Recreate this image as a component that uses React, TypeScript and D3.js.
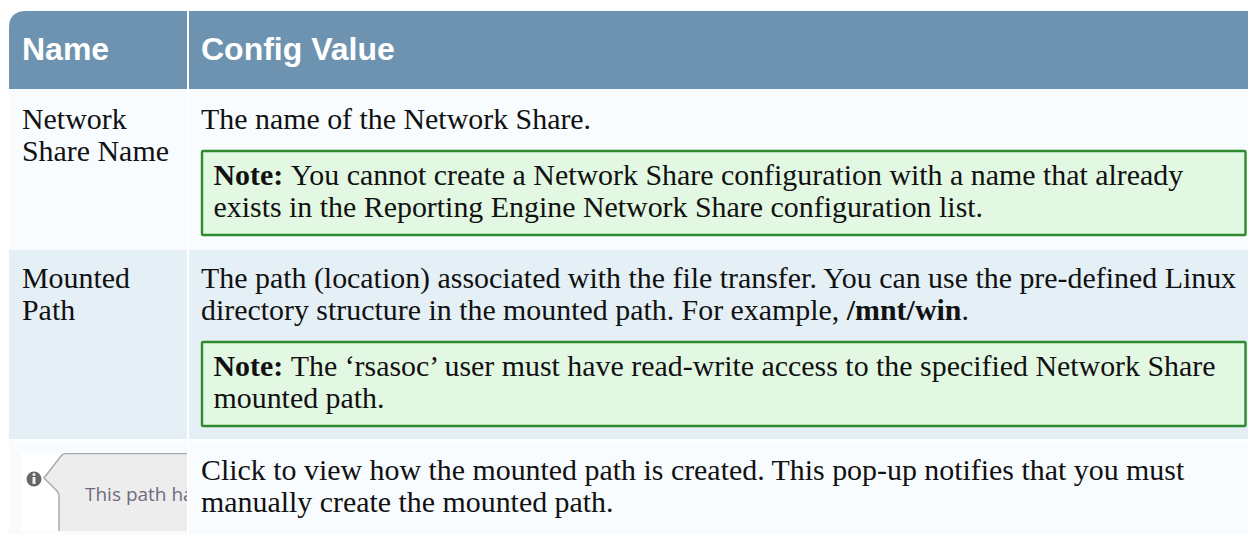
import * as d3 from "d3"

const headers = ["Name", "Config Value"]
const names = [["Network", "Share Name"], ["Mounted", "Path"]]
const descriptions = [
  ["The name of the Network Share."],
  [
    "The path (location) associated with the file transfer. You can use the pre-defined Linux",
    "directory structure in the mounted path. For example, ",
  ],
  [
    "Click to view how the mounted path is created. This pop-up notifies that you must",
    "manually create the mounted path.",
  ],
]
const notes = [
  [
    "You cannot create a Network Share configuration with a name that already",
    "exists in the Reporting Engine Network Share configuration list.",
  ],
  [
    "The \u2018rsasoc\u2019 user must have read-write access to the specified Network Share",
    "mounted path.",
  ],
]
const examplePath = "/mnt/win"
const popupText = "This path has"

// table edges, the rows have gaps of 2px between them
const colEdges = [9, 187, 189, 1248]
const rowEdges = [11, 89, 250, 439, 441, 535]
const serif = "'Liberation Serif', serif"
const sans = "'Liberation Sans', sans-serif"
const bodySize = 29.9

export default function App() {
  const width = 1248
  const height = 535
  const left = colEdges[0]
  const top = rowEdges[0]
  const mid = rowEdges[1]
  const r = 17

  const header = d3.path()
  header.moveTo(left, mid)
  header.lineTo(left, top + r)
  header.quadraticCurveTo(left, top, left + r, top)
  header.lineTo(colEdges[1], top)
  header.lineTo(colEdges[1], mid)
  header.closePath()

  const lineHeight = 32
  const textX = [22, 201]

  const noteBox = (y: number, lines: string[]) => (
    <g>
      <rect x={202} y={y} width={1043.5} height={84} fill="#e3f8e3" stroke="#2e8b2e" strokeWidth={2.4} rx={1} />
      <text x={213.5} y={y + 34} fontFamily={serif} fontSize={bodySize} fill="#111">
        <tspan fontWeight="bold">Note: </tspan>
        {lines[0]}
      </text>
      <text x={213.5} y={y + 66} fontFamily={serif} fontSize={bodySize} fill="#111">
        {lines[1]}
      </text>
    </g>
  )

  return (
    <svg width={width} height={height} style={{ position: "absolute", left: 0, top: 0, background: "#fff" }}>
      <defs>
        <clipPath id="thumb">
          <rect x={21} y={453} width={166} height={78} />
        </clipPath>
      </defs>

      {/* header */}
      <path d={header.toString()} fill="#6d93b0" />
      <rect x={colEdges[2]} y={top} width={colEdges[3] - colEdges[2]} height={mid - top} fill="#6d93b0" />
      <text x={textX[0]} y={60} fontFamily={sans} fontWeight="bold" fontSize={32} fill="#fff">{headers[0]}</text>
      <text x={textX[1]} y={60} fontFamily={sans} fontWeight="bold" fontSize={32} fill="#fff">{headers[1]}</text>

      {/* row backgrounds */}
      <rect x={left} y={rowEdges[1]} width={colEdges[1] - left} height={rowEdges[2] - rowEdges[1]} fill="#f8fcff" />
      <rect x={colEdges[2]} y={rowEdges[1]} width={colEdges[3] - colEdges[2]} height={rowEdges[2] - rowEdges[1]} fill="#f8fcff" />
      <rect x={left} y={rowEdges[2]} width={colEdges[1] - left} height={rowEdges[3] - rowEdges[2]} fill="#e4eff6" />
      <rect x={colEdges[2]} y={rowEdges[2]} width={colEdges[3] - colEdges[2]} height={rowEdges[3] - rowEdges[2]} fill="#e4eff6" />
      <rect x={left} y={rowEdges[4]} width={colEdges[1] - left} height={rowEdges[5] - rowEdges[4] - 1} fill="#f8fcff" />
      <rect x={colEdges[2]} y={rowEdges[4]} width={colEdges[3] - colEdges[2]} height={rowEdges[5] - rowEdges[4] - 1} fill="#f8fcff" />

      {/* first column */}
      {names.map((lines, i) =>
        lines.map((t, j) => (
          <text key={t} x={textX[0]} y={[129, 288][i] + j * lineHeight} fontFamily={serif} fontSize={bodySize} fill="#111">{t}</text>
        ))
      )}

      {/* second column */}
      <text x={textX[1]} y={129} fontFamily={serif} fontSize={bodySize} fill="#111">{descriptions[0][0]}</text>
      <text x={textX[1]} y={288} fontFamily={serif} fontSize={bodySize} fill="#111">{descriptions[1][0]}</text>
      <text x={textX[1]} y={320} fontFamily={serif} fontSize={bodySize} fill="#111">
        {descriptions[1][1]}
        <tspan fontWeight="bold">{examplePath}</tspan>.
      </text>
      <text x={textX[1]} y={480} fontFamily={serif} fontSize={bodySize} fill="#111">{descriptions[2][0]}</text>
      <text x={textX[1]} y={512} fontFamily={serif} fontSize={bodySize} fill="#111">{descriptions[2][1]}</text>

      {noteBox(151, notes[0])}
      {noteBox(342, notes[1])}

      {/* pop-up screenshot */}
      <g clipPath="url(#thumb)">
        <rect x={21} y={453} width={166} height={78} fill="#fff" />
        <path d="M 190 453.5 L 66 453.5 Q 63 453.5 61 456 L 44 478 L 57 491 Q 59 493 59 496 L 59 533 L 190 533 Z" fill="#ededed" stroke="#aaa" strokeWidth={1.5} />
        <circle cx={34} cy={479} r={7.5} fill="#666" />
        <rect x={32.5} y={477} width={3} height={7} fill="#eee" />
        <circle cx={34} cy={474.5} r={1.5} fill="#eee" />
        <text x={85} y={501} fontFamily="'Open Sans', sans-serif" fontSize={19} fill="#6f6a80">{popupText}</text>
      </g>
    </svg>
  )
}
